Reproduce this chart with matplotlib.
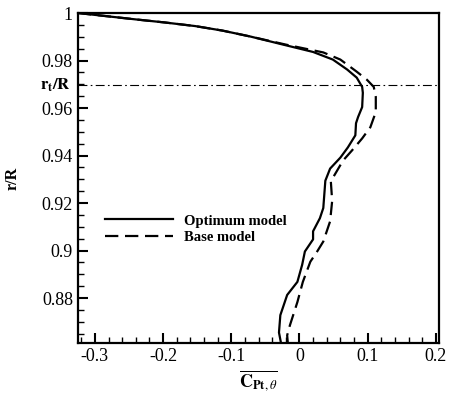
import matplotlib
matplotlib.use("Agg")
import matplotlib.pyplot as plt
from matplotlib.ticker import MultipleLocator
import matplotlib.transforms as mtransforms

plt.rcParams["font.family"] = ["Liberation Serif", "DejaVu Serif"]
plt.rcParams["mathtext.fontset"] = "stix"

# Optimum model (solid)
opt_x = [-0.325, -0.284, -0.240, -0.197, -0.153, -0.113, -0.072, -0.024, 0.020, 0.049,
         0.070, 0.084, 0.092, 0.093, 0.092, 0.086, 0.083, 0.082, 0.071, 0.060,
         0.045, 0.038, 0.035, 0.030, 0.020, 0.020, 0.008, 0.004, -0.003, -0.018,
         -0.028, -0.030, -0.027]
opt_y = [1.0, 0.9987, 0.9973, 0.9960, 0.9945, 0.9926, 0.9901, 0.9867, 0.9836, 0.9804,
         0.9762, 0.9728, 0.9689, 0.9664, 0.9604, 0.9562, 0.9536, 0.9485, 0.9434, 0.9391,
         0.9345, 0.9294, 0.9179, 0.9136, 0.9081, 0.9047, 0.8996, 0.8940, 0.8868, 0.8813,
         0.8728, 0.8655, 0.861]

# Base model (dashed)
base_x = [-0.325, -0.284, -0.240, -0.197, -0.153, -0.113, -0.072, -0.020, 0.035, 0.060,
          0.084, 0.099, 0.109, 0.112, 0.112, 0.104, 0.092, 0.077, 0.064, 0.049,
          0.046, 0.048, 0.045, 0.035, 0.026, 0.016, 0.005, -0.003, -0.014, -0.018,
          -0.017]
base_y = [1.0, 0.9987, 0.9973, 0.9960, 0.9945, 0.9926, 0.9901, 0.9867, 0.9834, 0.9804,
          0.9753, 0.9719, 0.9689, 0.9647, 0.9583, 0.9519, 0.9472, 0.9421, 0.9379, 0.9306,
          0.9294, 0.9209, 0.9123, 0.9038, 0.8996, 0.8953, 0.8868, 0.8783, 0.8685, 0.8643,
          0.861]

rt_R = 0.9696

fig = plt.figure(figsize=(4.5, 3.94), dpi=100)
ax = fig.add_axes([0.173, 0.129, 0.803, 0.838])

ax.plot(opt_x, opt_y, color="black", lw=1.6, label="Optimum model")
ax.plot(base_x, base_y, color="black", lw=1.6, dashes=(6, 3), label="Base model")
ax.axhline(rt_R, color="black", lw=0.8, dashes=(8, 3, 1.5, 3))

ax.set_xlim(-0.325, 0.205)
ax.set_ylim(0.861, 1.0)
ax.xaxis.set_minor_locator(MultipleLocator(0.02))
ax.yaxis.set_minor_locator(MultipleLocator(0.005))
ax.tick_params(which="both", direction="in", top=False, right=False, labelsize=13)
ax.tick_params(which="major", length=7, width=1.5)
ax.tick_params(which="minor", length=4, width=1.0)
for s in ax.spines.values():
    s.set_linewidth(1.6)

ax.set_xticks([-0.3, -0.2, -0.1, 0, 0.1, 0.2])
ax.set_xticklabels(["-0.3", "-0.2", "-0.1", "0", "0.1", "0.2"])
ax.set_yticks([0.88, 0.9, 0.92, 0.94, 0.96, 0.98, 1.0])
ax.set_yticklabels(["0.88", "0.9", "0.92", "0.94", "0.96", "0.98", "1"])

trans = mtransforms.blended_transform_factory(ax.transAxes, ax.transData)
ax.text(-0.02, rt_R, r"$\mathbf{r}_{\mathbf{t}}\mathbf{/R}$", transform=trans,
        ha="right", va="center", fontsize=12)

ax.set_ylabel("r/R", fontsize=11.5, fontweight="bold")
ax.yaxis.set_label_coords(-0.158, 0.5)
ax.set_xlabel(r"$\overline{\mathbf{C}_{\mathbf{Pt},\theta}}$", fontsize=13, labelpad=2)

ax.legend(loc="upper left", bbox_to_anchor=(0.04, 0.43), frameon=False,
          handlelength=4.6, prop={"weight": "bold", "size": 10.5},
          labelspacing=0.2, handletextpad=0.8)

plt.savefig("out.png", dpi=100)
